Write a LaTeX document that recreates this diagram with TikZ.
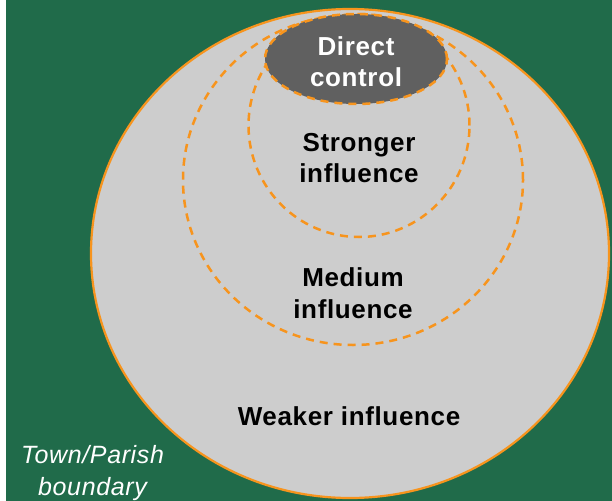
\documentclass[tikz,border=0pt]{standalone}
\usepackage{fontspec}
\setmainfont{Liberation Sans}[LetterSpace=2.5]
\usetikzlibrary{shapes.geometric}

\definecolor{fieldgreen}{RGB}{32,107,74}
\definecolor{zonegray}{RGB}{205,205,205}
\definecolor{coregray}{RGB}{96,96,96}
\definecolor{ringorange}{RGB}{247,148,29}

\tikzset{
  zone/.style={ellipse, inner sep=0pt, outer sep=0pt},
  outerzone/.style={zone, fill=zonegray, draw=ringorange, line width=2.2bp},
  ringzone/.style={zone, draw=ringorange, line width=2.5bp, dash pattern=on 8bp off 6bp},
  corezone/.style={ringzone, fill=coregray},
  zonelabel/.style={align=center, inner sep=0pt, font=\bfseries\fontsize{26bp}{31.5bp}\selectfont},
  boundarylabel/.style={align=center, inner sep=0pt, text=white, font=\itshape\fontsize{25bp}{32bp}\selectfont}
}

\begin{document}
\begin{tikzpicture}[x=1bp, y=-1bp]
  % page: thin white strip on the left, green field behind
  \fill[white] (0,0) rectangle (612,501);
  \fill[fieldgreen] (6,0) rectangle (612,501);
  \useasboundingbox (0,0) rectangle (612,501);

  % nested zones of influence
  \node[outerzone, minimum width=518bp, minimum height=489bp] (weaker) at (350,253.5) {};
  \node[ringzone, minimum width=340bp, minimum height=330bp] (medium) at (353,180) {};
  \node[ringzone, minimum width=221bp, minimum height=223bp] (stronger) at (359,125.5) {};
  \node[corezone, minimum width=182bp, minimum height=90bp] (direct) at (356,59) {};

  % zone labels
  \node[zonelabel, text=white] (directlabel) at (356,61.5) {Direct\\control};
  \node[zonelabel] (strongerlabel) at (359,158) {Stronger\\influence};
  \node[zonelabel] (mediumlabel) at (353,293) {Medium\\influence};
  \node[zonelabel, anchor=base] (weakerlabel) at (349,425) {Weaker influence};

  % boundary caption
  \node[boundarylabel] (boundarylabel) at (92.5,473.5) {Town/Parish\\boundary};
\end{tikzpicture}
\end{document}
